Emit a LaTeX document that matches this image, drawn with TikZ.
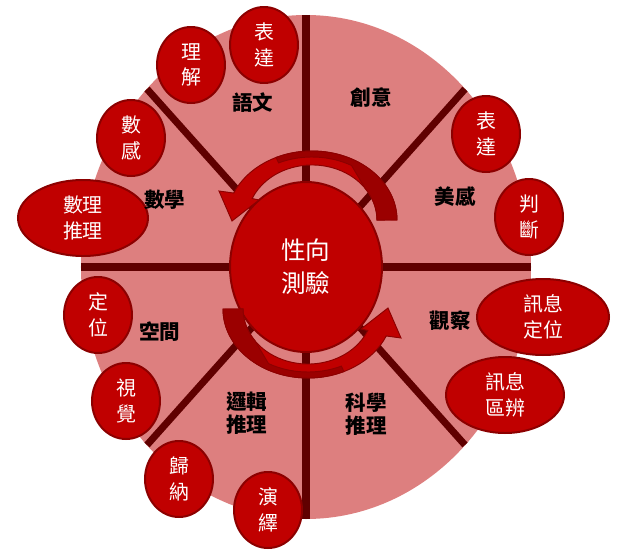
\documentclass[tikz,border=0pt]{standalone}
\usepackage{fontspec}
\newfontfamily\cjk{Noto Sans CJK TC}
\usepackage{tikz}
\usetikzlibrary{shapes.geometric,backgrounds}

\definecolor{pie}{RGB}{221,127,127}
\definecolor{divider}{RGB}{96,0,0}
\definecolor{bubble}{RGB}{192,0,0}
\definecolor{rim}{RGB}{140,0,0}
\definecolor{ribbon}{RGB}{155,0,0}

\tikzset{
	turn/.pic={
		\filldraw[fill=bubble,draw=rim,line width=0.8pt] (91,47)
			arc[start angle=0,end angle=157,x radius=85,y radius=69]
			-- (-87,76) -- (-74,46) -- (-47,67) -- (-53.8,68.5)
			arc[start angle=157,end angle=0,x radius=65,y radius=55] -- cycle;
		\filldraw[fill=ribbon,draw=rim,line width=0.8pt] (91,47)
			arc[start angle=0,end angle=115,x radius=85,y radius=69]
			-- (-27.4,104.1)
			arc[start angle=115,end angle=60,x radius=79,y radius=63]
			-- (59.2,78.5)
			arc[start angle=35,end angle=0,x radius=65,y radius=55] -- cycle;
	}
}

\begin{document}
\begin{tikzpicture}[x=0.03cm,y=0.03cm,
		divider/.style={draw=divider,line width=6pt},
		wide/.style={minimum width=3.9cm}]
	\useasboundingbox (-306,-283) rectangle (313,267);

	\fill[pie] (0,0) ellipse [x radius=225,y radius=252];
	\draw[divider] (0,252) -- (0,-252);
	\draw[divider] (-225,0) -- (225,0);
	\draw[divider] (-159,178) -- (159,-178);
	\draw[divider] (-159,-178) -- (159,178);

	\begin{scope}[every node/.style={ellipse,draw=rim,line width=1.7pt,fill=bubble,
			text=white,inner sep=0pt,minimum width=2.04cm,minimum height=2.28cm,
			align=center,font=\cjk\fontsize{17}{22}\selectfont}]
		\node (A) at (-42,222) {表\\達};
		\node (B) at (-115,202) {理\\解};
		\node (C) at (-175,129) {數\\感};
		\node[wide] (D) at (-223,49) {數理\\推理};
		\node (E) at (180,133) {表\\達};
		\node (F) at (223,50) {判\\斷};
		\node (G) at (-208,-48) {定\\位};
		\node (H) at (-180,-134) {視\\覺};
		\node (I) at (-127,-212) {歸\\納};
		\node (J) at (-38,-243) {演\\繹};
		\node[wide,minimum width=3.96cm] (K) at (237,-50) {訊息\\定位};
		\node[minimum width=3.54cm] (L) at (199,-128) {訊息\\區辨};
		\node[minimum width=4.56cm,minimum height=5.1cm,
			font=\cjk\fontsize{21}{28}\selectfont] (X) at (0,0) {性向\\測驗};
	\end{scope}

	\begin{scope}[every node/.style={align=center,text=black,
			font=\cjk\bfseries\fontsize{17.5}{20}\selectfont}]
		\node (M) at (-53,164) {語文};
		\node (N) at (65,169) {創意};
		\node (O) at (-141,67) {數學};
		\node (P) at (149,70) {美感};
		\node (Q) at (-146,-65) {空間};
		\node (R) at (144,-54) {觀察};
		\node (S) at (-59,-146) {邏輯\\推理};
		\node (T) at (60,-147) {科學\\推理};
	\end{scope}

	\pic at (0,0) {turn};
	\pic[rotate=180] at (8,5) {turn};
\end{tikzpicture}
\end{document}
